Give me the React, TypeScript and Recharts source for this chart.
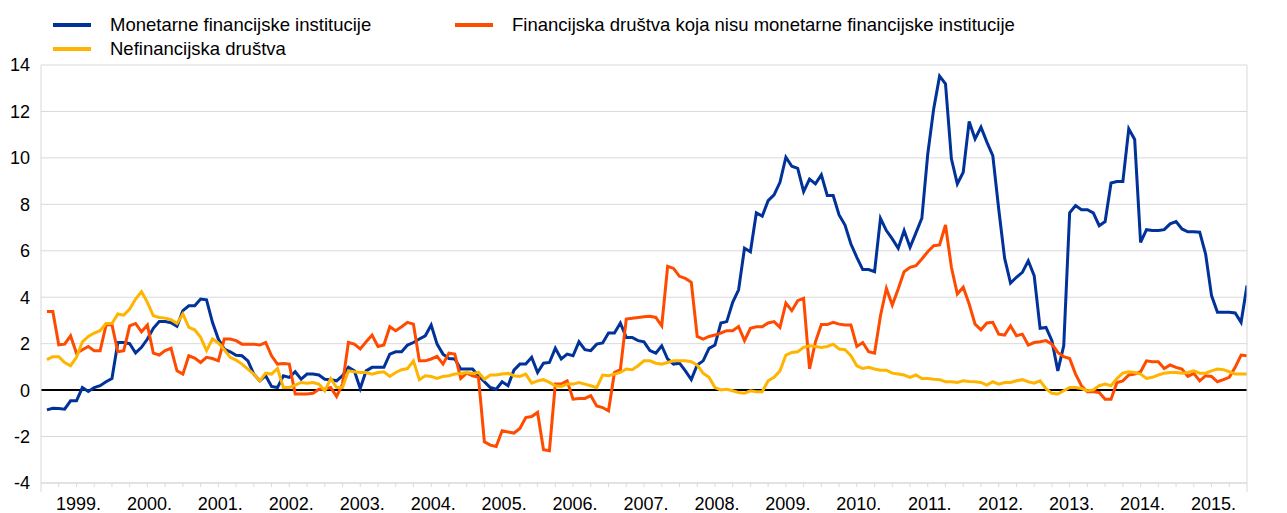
import React from 'react';
import { CartesianGrid, Line, LineChart, ReferenceLine, XAxis, YAxis } from 'recharts';

// monthly observations, Jan 1999 - Dec 2015 (annual growth, %)
const years = [
  '1999.', '2000.', '2001.', '2002.', '2003.', '2004.', '2005.', '2006.', '2007.',
  '2008.', '2009.', '2010.', '2011.', '2012.', '2013.', '2014.', '2015.',
];

const mfi = [
  -0.85, -0.78, -0.79, -0.82, -0.46, -0.46, 0.11, -0.06, 0.11, 0.19, 0.36, 0.5,
  2.05, 2.05, 2.0, 1.6, 1.84, 2.2, 2.66, 2.95, 2.95, 2.9, 2.75, 3.42,
  3.63, 3.63, 3.92, 3.89, 2.92, 2.2, 1.77, 1.65, 1.5, 1.48, 1.26, 0.69,
  0.4, 0.62, 0.16, 0.11, 0.62, 0.55, 0.79, 0.47, 0.69, 0.69, 0.65, 0.47,
  0.45, 0.4, 0.62, 0.98, 0.83, 0.07, 0.83, 0.98, 0.98, 0.98, 1.55, 1.65,
  1.65, 1.94, 2.05, 2.2, 2.34, 2.8, 1.98, 1.55, 1.36, 1.34, 0.91, 0.91,
  0.91, 0.62, 0.36, 0.11, 0.04, 0.36, 0.19, 0.86, 1.12, 1.12, 1.41, 0.76,
  1.16, 1.19, 1.8, 1.34, 1.55, 1.48, 2.08, 1.74, 1.7, 1.98, 2.03, 2.46,
  2.46, 2.89, 2.27, 2.27, 2.13, 2.08, 1.7, 1.59, 1.91, 1.34, 1.12, 1.16,
  0.83, 0.45, 1.08, 1.26, 1.8, 1.94, 2.89, 2.95, 3.78, 4.32, 6.11, 5.96,
  7.63, 7.49, 8.16, 8.41, 8.95, 10.03, 9.64, 9.55, 8.55, 9.09, 8.88, 9.27,
  8.38, 8.38, 7.54, 7.11, 6.29, 5.72, 5.19, 5.19, 5.1, 7.4, 6.87, 6.51,
  6.11, 6.87, 6.15, 6.77, 7.4, 10.17, 12.11, 13.52, 13.19, 9.96, 8.88, 9.38,
  11.57, 10.82, 11.32, 10.68, 10.1, 7.8, 5.68, 4.61, 4.86, 5.07, 5.57, 4.93,
  2.66, 2.7, 2.13, 0.83, 1.91, 7.63, 7.95, 7.77, 7.77, 7.63, 7.08, 7.26,
  8.92, 8.98, 8.98, 11.25, 10.79, 6.36, 6.91, 6.87, 6.87, 6.91, 7.16, 7.26,
  6.94, 6.82, 6.82, 6.8, 5.86, 4.07, 3.35, 3.35, 3.35, 3.32, 2.92, 4.5,
];

const ofi = [
  3.39, 3.39, 1.95, 1.98, 2.34, 1.59, 1.74, 1.88, 1.7, 1.7, 2.8, 2.82,
  1.65, 1.7, 2.77, 2.87, 2.51, 2.8, 1.59, 1.51, 1.7, 1.8, 0.83, 0.69,
  1.48, 1.38, 1.19, 1.41, 1.36, 1.26, 2.2, 2.2, 2.13, 1.98, 1.98, 1.98,
  1.94, 2.05, 1.48, 1.12, 1.15, 1.12, -0.17, -0.17, -0.17, -0.14, 0.04, 0.04,
  0.11, -0.27, 0.26, 2.05, 1.98, 1.77, 2.08, 2.37, 1.88, 1.94, 2.73, 2.56,
  2.73, 2.92, 2.84, 1.26, 1.26, 1.34, 1.45, 1.12, 1.59, 1.55, 0.5, 0.73,
  0.62, 0.55, -2.23, -2.37, -2.43, -1.75, -1.8, -1.85, -1.65, -1.18, -1.14, -0.96,
  -2.57, -2.61, 0.26, 0.26, 0.4, -0.39, -0.36, -0.36, -0.24, -0.68, -0.75, -0.89,
  0.76, 0.88, 3.06, 3.09, 3.13, 3.16, 3.18, 3.13, 2.77, 5.33, 5.24, 4.9,
  4.81, 4.64, 2.31, 2.2, 2.31, 2.37, 2.46, 2.56, 2.56, 2.74, 2.13, 2.66,
  2.73, 2.73, 2.89, 2.95, 2.7, 3.75, 3.42, 3.85, 3.95, 0.91, 2.08, 2.82,
  2.82, 2.92, 2.84, 2.8, 2.8, 1.88, 2.05, 1.65, 1.59, 3.2, 4.38, 3.66,
  4.35, 5.1, 5.29, 5.36, 5.65, 5.96, 6.22, 6.25, 7.11, 5.29, 4.14, 4.43,
  3.71, 2.84, 2.6, 2.89, 2.92, 2.41, 2.37, 2.77, 2.34, 2.41, 1.94, 2.05,
  2.08, 2.13, 1.98, 1.62, 1.44, 1.36, 0.69, 0.19, -0.07, -0.07, -0.1, -0.39,
  -0.39, 0.33, 0.4, 0.65, 0.69, 0.79, 1.26, 1.22, 1.22, 0.93, 1.08, 0.98,
  0.91, 0.59, 0.72, 0.4, 0.62, 0.59, 0.36, 0.45, 0.55, 0.98, 1.51, 1.48,
];

const nfc = [
  1.31, 1.44, 1.44, 1.19, 1.05, 1.41, 2.08, 2.31, 2.46, 2.56, 2.87, 2.87,
  3.28, 3.23, 3.49, 3.92, 4.24, 3.78, 3.2, 3.13, 3.1, 3.03, 2.87, 3.28,
  2.7, 2.6, 2.27, 1.7, 2.2, 2.03, 1.74, 1.41, 1.29, 1.12, 0.9, 0.69,
  0.4, 0.73, 0.69, 0.93, 0.11, 0.11, 0.22, 0.33, 0.3, 0.33, 0.26, -0.03,
  0.5, 0.11, 0.11, 0.83, 0.79, 0.76, 0.76, 0.69, 0.76, 0.79, 0.59, 0.76,
  0.88, 0.93, 1.26, 0.45, 0.62, 0.59, 0.5, 0.59, 0.62, 0.69, 0.72, 0.76,
  0.72, 0.76, 0.47, 0.65, 0.65, 0.69, 0.72, 0.62, 0.59, 0.69, 0.3, 0.4,
  0.45, 0.33, 0.19, 0.16, 0.26, 0.26, 0.33, 0.26, 0.19, 0.11, 0.65, 0.62,
  0.69, 0.76, 0.91, 0.88, 1.05, 1.26, 1.26, 1.16, 1.12, 1.19, 1.26, 1.26,
  1.26, 1.22, 1.08, 0.73, 0.55, 0.11, 0.01, 0.04, -0.03, -0.1, -0.13, -0.03,
  -0.07, -0.07, 0.4, 0.55, 0.83, 1.51, 1.62, 1.65, 1.84, 1.91, 1.88, 1.84,
  1.88, 1.98, 1.77, 1.74, 1.48, 1.05, 0.93, 0.98, 0.91, 0.86, 0.86, 0.73,
  0.69, 0.65, 0.55, 0.65, 0.5, 0.5, 0.47, 0.45, 0.36, 0.36, 0.33, 0.4,
  0.37, 0.36, 0.33, 0.22, 0.36, 0.26, 0.33, 0.33, 0.4, 0.45, 0.36, 0.3,
  0.4, 0.06, -0.14, -0.17, -0.03, 0.11, 0.11, 0.07, -0.03, 0.01, 0.19, 0.26,
  0.19, 0.5, 0.73, 0.79, 0.76, 0.69, 0.5, 0.55, 0.65, 0.73, 0.76, 0.76,
  0.73, 0.76, 0.83, 0.73, 0.73, 0.83, 0.91, 0.88, 0.79, 0.69, 0.69, 0.69,
];

const yTicks = [-4, -2, 0, 2, 4, 6, 8, 10, 12, 14];

const BLUE = '#003299';
const ORANGE = '#ff4b00';
const YELLOW = '#ffb400';
const GRID = '#d9d9d9';
const FONT = '"Liberation Sans", Arial, sans-serif';

const data = mfi.map((v, i) => ({ i, mfi: v, ofi: ofi[i], nfc: nfc[i] }));

// quarter boundaries, index -1 is the start of Jan 1999
const quarterTicks = Array.from({ length: years.length * 4 + 1 }, (_, k) => -1 + 3 * k);

function QuarterTick(props: any) {
  const { x, y, payload } = props;
  const k = Math.round((payload.value + 1) / 3);
  const edge = k === 0 || k === years.length * 4;
  const label = k % 4 === 2 ? years[(k - 2) / 4] : null;
  return (
    <g>
      <line x1={x} x2={x} y1={y} y2={y + (edge ? 9 : 4)} stroke={GRID} strokeWidth={1} />
      {label && (
        <text x={x + 2} y={y + 27} textAnchor="middle" fontSize={18} fill="#000" fontFamily={FONT}>
          {label}
        </text>
      )}
    </g>
  );
}

function LegendItem({ color, label, x, y, textX }: { color: string; label: string; x: number; y: number; textX: number }) {
  return (
    <>
      <span style={{ position: 'absolute', left: x, top: y - 2, width: 38, height: 4, background: color }} />
      <span
        style={{
          position: 'absolute',
          left: textX,
          top: y - 10,
          lineHeight: '20px',
          fontSize: 18.5,
          color: '#000',
          whiteSpace: 'nowrap',
        }}
      >
        {label}
      </span>
    </>
  );
}

export default function App() {
  return (
    <div
      style={{
        position: 'absolute',
        left: 0,
        top: 0,
        width: 1287,
        height: 513,
        background: '#fff',
        fontFamily: FONT,
      }}
    >
      <LineChart width={1287} height={513} data={data} margin={{ top: 65, right: 0, bottom: 0, left: 0 }}>
        <CartesianGrid vertical={false} stroke={GRID} strokeWidth={1} yAxisId="left" />
        <XAxis
          type="number"
          dataKey="i"
          domain={[-1, 203]}
          ticks={quarterTicks}
          interval={0}
          allowDataOverflow
          height={30}
          tickSize={0}
          tickMargin={0}
          tickLine={false}
          axisLine={{ stroke: GRID }}
          tick={<QuarterTick />}
        />
        <YAxis
          yAxisId="left"
          domain={[-4, 14]}
          ticks={yTicks}
          interval={0}
          width={41}
          tickSize={0}
          tickMargin={11}
          tickLine={false}
          axisLine={{ stroke: GRID }}
          tick={{ fontSize: 18, fill: '#000', fontFamily: FONT }}
        />
        <YAxis
          yAxisId="right"
          orientation="right"
          domain={[-4, 14]}
          ticks={yTicks}
          interval={0}
          width={40}
          tickSize={0}
          tickMargin={10}
          tickLine={false}
          axisLine={{ stroke: GRID }}
          tick={{ fontSize: 18, fill: '#000', fontFamily: FONT }}
        />
        <ReferenceLine yAxisId="left" y={0} stroke="#000" strokeWidth={2} />
        <Line
          yAxisId="left"
          type="linear"
          dataKey="mfi"
          stroke={BLUE}
          strokeWidth={3}
          dot={false}
          isAnimationActive={false}
        />
        <Line
          yAxisId="left"
          type="linear"
          dataKey="ofi"
          stroke={ORANGE}
          strokeWidth={3}
          dot={false}
          isAnimationActive={false}
        />
        <Line
          yAxisId="left"
          type="linear"
          dataKey="nfc"
          stroke={YELLOW}
          strokeWidth={3}
          dot={false}
          isAnimationActive={false}
        />
      </LineChart>
      <LegendItem color={BLUE} label="Monetarne financijske institucije" x={53} y={25} textX={110} />
      <LegendItem
        color={ORANGE}
        label="Financijska društva koja nisu monetarne financijske institucije"
        x={455}
        y={25}
        textX={512}
      />
      <LegendItem color={YELLOW} label="Nefinancijska društva" x={53} y={49} textX={110} />
    </div>
  );
}
